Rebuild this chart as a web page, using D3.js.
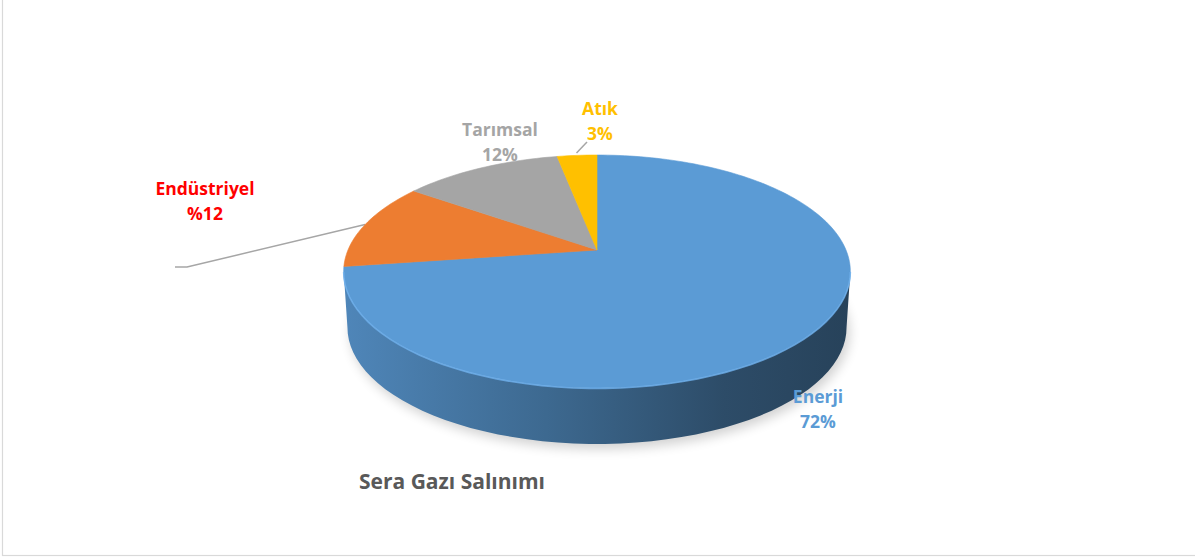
<!DOCTYPE html>
<html>
<head>
<meta charset="utf-8">
<script src="https://cdn.jsdelivr.net/npm/d3@7"></script>
<style>
  html, body { margin: 0; padding: 0; background: #fff; }
  svg { display: block; }
  text { font-family: "Open Sans", Lato, sans-serif; font-weight: bold; }
</style>
</head>
<body>
<svg id="chart" width="1195" height="558"></svg>
<script>
// ---- data ----
const categories = ["Enerji", "Endüstriyel", "Tarımsal", "Atık"];
const values = [72, 12, 12, 3];
const valueLabels = ["72%", "%12", "12%", "3%"];
const sliceColors = ["#5B9BD5", "#ED7D31", "#A5A5A5", "#FFC000"];
const labelColors = ["#5B9BD5", "#FF0000", "#A5A5A5", "#FFC000"];
const title = "Sera Gazı Salınımı";

// ---- layout ----
const W = 1195, H = 558;
const cx = 597, cy = 250;      // apex of slices
const B = 249, A = 112.5, p = 0.1845; // perspective ellipse parameters
const depth = 56;
const bottomScale = 0.985;
// label offsets from apex (px)
const labelOffsets = [[221, 153], [-392, -55], [-97, -114], [3, -135]];
const labelOnTop = [true, false, false, false];

const svg = d3.select("#chart");
const defs = svg.append("defs");

// frame
svg.append("rect").attr("x", 2.5).attr("y", -2).attr("width", W + 10).attr("height", 557.5)
  .attr("fill", "#fff").attr("stroke", "#d9d9d9").attr("stroke-width", 1.2);

function proj(theta, dz = 0, r = 1, sx = 1) {
  const u = Math.sin(theta) * r, v = Math.cos(theta) * r;
  const k = 1 + p * v;
  return [cx + sx * B * u / k, cy - A * v / k + dz];
}

const pie = d3.pie().sort(null).value(d => d)(values);
const color = d3.scaleOrdinal().domain(categories).range(sliceColors);
const line = d3.line();

function arcPoints(a0, a1, dz = 0, n = 120, sx = 1) {
  const pts = [];
  const steps = Math.max(2, Math.ceil(n * Math.abs(a1 - a0) / (2 * Math.PI)));
  for (let i = 0; i <= steps; i++) pts.push(proj(a0 + (a1 - a0) * i / steps, dz, 1, sx));
  return pts;
}

// shadow
const f = defs.append("filter").attr("id", "blur").attr("x", "-20%").attr("y", "-40%").attr("width", "140%").attr("height", "180%");
f.append("feGaussianBlur").attr("stdDeviation", 6);
svg.append("path")
  .attr("d", line(arcPoints(0, 2 * Math.PI, depth + 5, 120, bottomScale)) + "Z")
  .attr("fill", "#000").attr("opacity", 0.18).attr("filter", "url(#blur)")
  .attr("transform", "translate(3,0)");

function drawLabel(g, i) {
  const [ox, oy] = labelOffsets[i];
  const t = g.append("text").attr("x", cx + ox).attr("y", cy + oy)
    .attr("text-anchor", "middle").attr("fill", labelColors[i]).attr("font-size", 17.5);
  t.append("tspan").attr("x", cx + ox).text(categories[i]);
  t.append("tspan").attr("x", cx + ox).attr("dy", 25).text(valueLabels[i]);
}

// labels under the pie
const labUnder = svg.append("g");
categories.forEach((c, i) => { if (!labelOnTop[i]) drawLabel(labUnder, i); });

// leader lines
const leaderG = svg.append("g").attr("fill", "none").attr("stroke", "#a6a6a6").attr("stroke-width", 1.5);
{
  const d = pie[1];
  const m = (d.startAngle + d.endAngle) / 2;
  const e = proj(m, 0, 1.0);
  leaderG.append("path").attr("d", line([[cx - 422, cy + 17], [cx - 410, cy + 17], e]));
}
{
  const d = pie[3];
  const m = (d.startAngle + d.endAngle) / 2;
  const e = proj(m, 0, 1.03);
  leaderG.append("path").attr("d", line([e, [cx - 10, cy - 108]]));
}

// side wall
const thR = Math.acos(-p);
const thL = 2 * Math.PI - Math.acos(-p);
pie.forEach((d, i) => {
  const a0 = Math.max(d.startAngle, thR), a1 = Math.min(d.endAngle, thL);
  if (a1 <= a0) return;
  const top = arcPoints(a0, a1, 0);
  const bot = arcPoints(a1, a0, depth, 120, bottomScale);
  const base = d3.color(sliceColors[i]);
  const gid = "side" + i;
  const g = defs.append("linearGradient").attr("id", gid)
    .attr("gradientUnits", "userSpaceOnUse")
    .attr("x1", cx - B * 1.02).attr("x2", cx + B * 1.02).attr("y1", 0).attr("y2", 0);
  g.append("stop").attr("offset", "0%").attr("stop-color", base.darker(0.4));
  g.append("stop").attr("offset", "40%").attr("stop-color", base.darker(1.1));
  g.append("stop").attr("offset", "75%").attr("stop-color", base.darker(2.0));
  g.append("stop").attr("offset", "100%").attr("stop-color", base.darker(2.4));
  svg.append("path").attr("d", line(top.concat(bot)) + "Z").attr("fill", `url(#${gid})`);
});

// top face slices
pie.forEach((d, i) => {
  const pts = [[cx, cy]].concat(arcPoints(d.startAngle, d.endAngle, 0, 240));
  svg.append("path").attr("d", line(pts) + "Z")
    .attr("fill", color(categories[i]))
    .attr("stroke", color(categories[i])).attr("stroke-width", 0.6).attr("stroke-linejoin", "round");
});

// front rim highlight
svg.append("path").attr("d", line(arcPoints(thR, thL, 0.5)))
  .attr("fill", "none").attr("stroke", "#6FB0EC").attr("stroke-width", 1.6).attr("opacity", 0.8);

// labels on top
const labTop = svg.append("g");
categories.forEach((c, i) => { if (labelOnTop[i]) drawLabel(labTop, i); });

// title
svg.append("text").attr("x", 452).attr("y", 489).attr("text-anchor", "middle")
  .attr("fill", "#595959").attr("font-size", 21).text(title);
</script>
</body>
</html>
